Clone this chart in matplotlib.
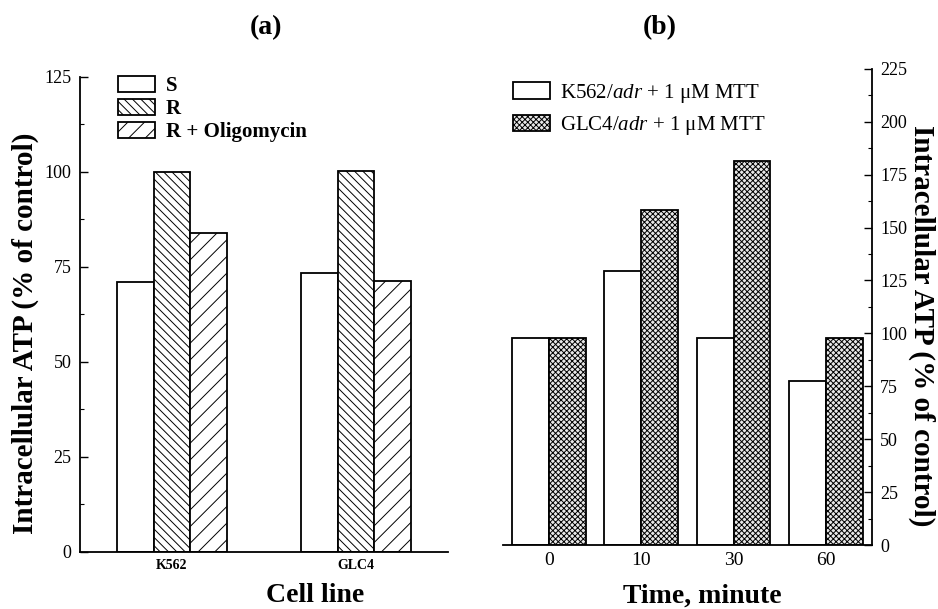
import matplotlib
matplotlib.use("Agg")
import matplotlib.pyplot as plt
import numpy as np

plt.rcParams['font.family'] = ['Liberation Serif', 'DejaVu Serif']
plt.rcParams['hatch.linewidth'] = 0.7
plt.rcParams['mathtext.fontset'] = 'custom'
plt.rcParams['mathtext.rm'] = 'Liberation Serif'
plt.rcParams['mathtext.it'] = 'Liberation Serif:italic'

# Panel (a)
cell_lines = ["K562", "GLC4"]
s_vals = [71.0, 73.5]
r_vals = [100.0, 100.3]
r_olig_vals = [84.0, 71.3]
series_a = ["S", "R", "R + Oligomycin"]

# Panel (b)
times = ["0", "10", "30", "60"]
k562_adr = [98.0, 129.5, 98.0, 77.5]
glc4_adr = [98.0, 158.5, 181.5, 98.0]
series_b = ["K562/$\\it{adr}$ + 1 μM MTT", "GLC4/$\\it{adr}$ + 1 μM MTT"]

W, H = 938, 609
fig = plt.figure(figsize=(W / 100, H / 100), dpi=100)


def fx(px):
    return px / W


def fy(py):
    return 1 - py / H


# ---------- (a) ----------
axa = fig.add_axes([0.0853, 0.0936, 0.3923, 0.780])
x = np.arange(len(cell_lines))
w = 0.2
axa.bar(x - w, s_vals, w, facecolor='white', edgecolor='black', linewidth=1.3, label=series_a[0])
axa.bar(x, r_vals, w, facecolor='white', edgecolor='black', linewidth=1.3, hatch='\\\\\\\\', label=series_a[1])
axa.bar(x + w, r_olig_vals, w, facecolor='white', edgecolor='black', linewidth=1.3, hatch='//', label=series_a[2])
axa.set_xlim(-0.5, 1.5)
axa.set_ylim(0, 125)
axa.set_xticks(x)
axa.set_xticklabels(cell_lines, fontsize=10, fontweight='bold')
axa.set_yticks([0, 25, 50, 75, 100, 125])
axa.set_yticks(np.arange(12.5, 125, 25), minor=True)
axa.tick_params(axis='y', which='major', direction='in', length=6, width=1.0, labelsize=13, pad=6)
axa.tick_params(axis='y', which='minor', direction='in', length=3, width=0.8)
axa.tick_params(axis='x', length=0, pad=5)
for sp in ['top', 'right']:
    axa.spines[sp].set_visible(False)
for sp in ['left', 'bottom']:
    axa.spines[sp].set_linewidth(1.3)
axa.legend(loc='upper left', bbox_to_anchor=(0.08, 1.02), frameon=False,
           prop={'size': 15, 'weight': 'bold'}, handlelength=1.8, handleheight=0.85,
           labelspacing=0.12, handletextpad=0.5, borderaxespad=0)

fig.text(fx(25), fy(333), "Intracellular ATP (% of control)", rotation=90,
         ha='center', va='center', fontsize=21, fontweight='bold')
fig.text(fx(315), fy(596), "Cell line", ha='center', va='center', fontsize=20, fontweight='bold')
fig.text(fx(266), fy(28), "(a)", ha='center', va='center', fontsize=20, fontweight='bold')

# ---------- (b) ----------
axb = fig.add_axes([0.5362, 0.105, 0.3934, 0.782])
xb = np.arange(len(times))
wb = 0.4
axb.bar(xb - wb / 2, k562_adr, wb, facecolor='white', edgecolor='black', linewidth=1.3, label=series_b[0])
axb.bar(xb + wb / 2, glc4_adr, wb, facecolor='#e8e8e8', edgecolor='black', linewidth=1.3, hatch='xxxxxx', label=series_b[1])
axb.set_xlim(-0.5, 3.5)
axb.set_ylim(0, 225)
axb.set_xticks(xb)
axb.set_xticklabels(times, fontsize=14)
axb.yaxis.tick_right()
axb.set_yticks(np.arange(0, 226, 25))
axb.set_yticks(np.arange(12.5, 225, 25), minor=True)
axb.tick_params(axis='y', which='major', direction='in', length=6, width=1.0, labelsize=13, pad=6)
axb.tick_params(axis='y', which='minor', direction='in', length=3, width=0.8)
axb.tick_params(axis='x', length=0, pad=5)
for sp in ['top', 'left']:
    axb.spines[sp].set_visible(False)
for sp in ['right', 'bottom']:
    axb.spines[sp].set_linewidth(1.3)
axb.legend(loc='upper left', bbox_to_anchor=(0.005, 0.99), frameon=False,
           prop={'size': 15}, handlelength=1.75, handleheight=0.85,
           labelspacing=0.45, handletextpad=0.5, borderaxespad=0)

fig.text(fx(922), fy(326), "Intracellular ATP (% of control)", rotation=270,
         ha='center', va='center', fontsize=21, fontweight='bold')
fig.text(fx(702), fy(596), "Time, minute", ha='center', va='center', fontsize=20, fontweight='bold')
fig.text(fx(660), fy(28), "(b)", ha='center', va='center', fontsize=20, fontweight='bold')

fig.savefig("out.png", dpi=100)
